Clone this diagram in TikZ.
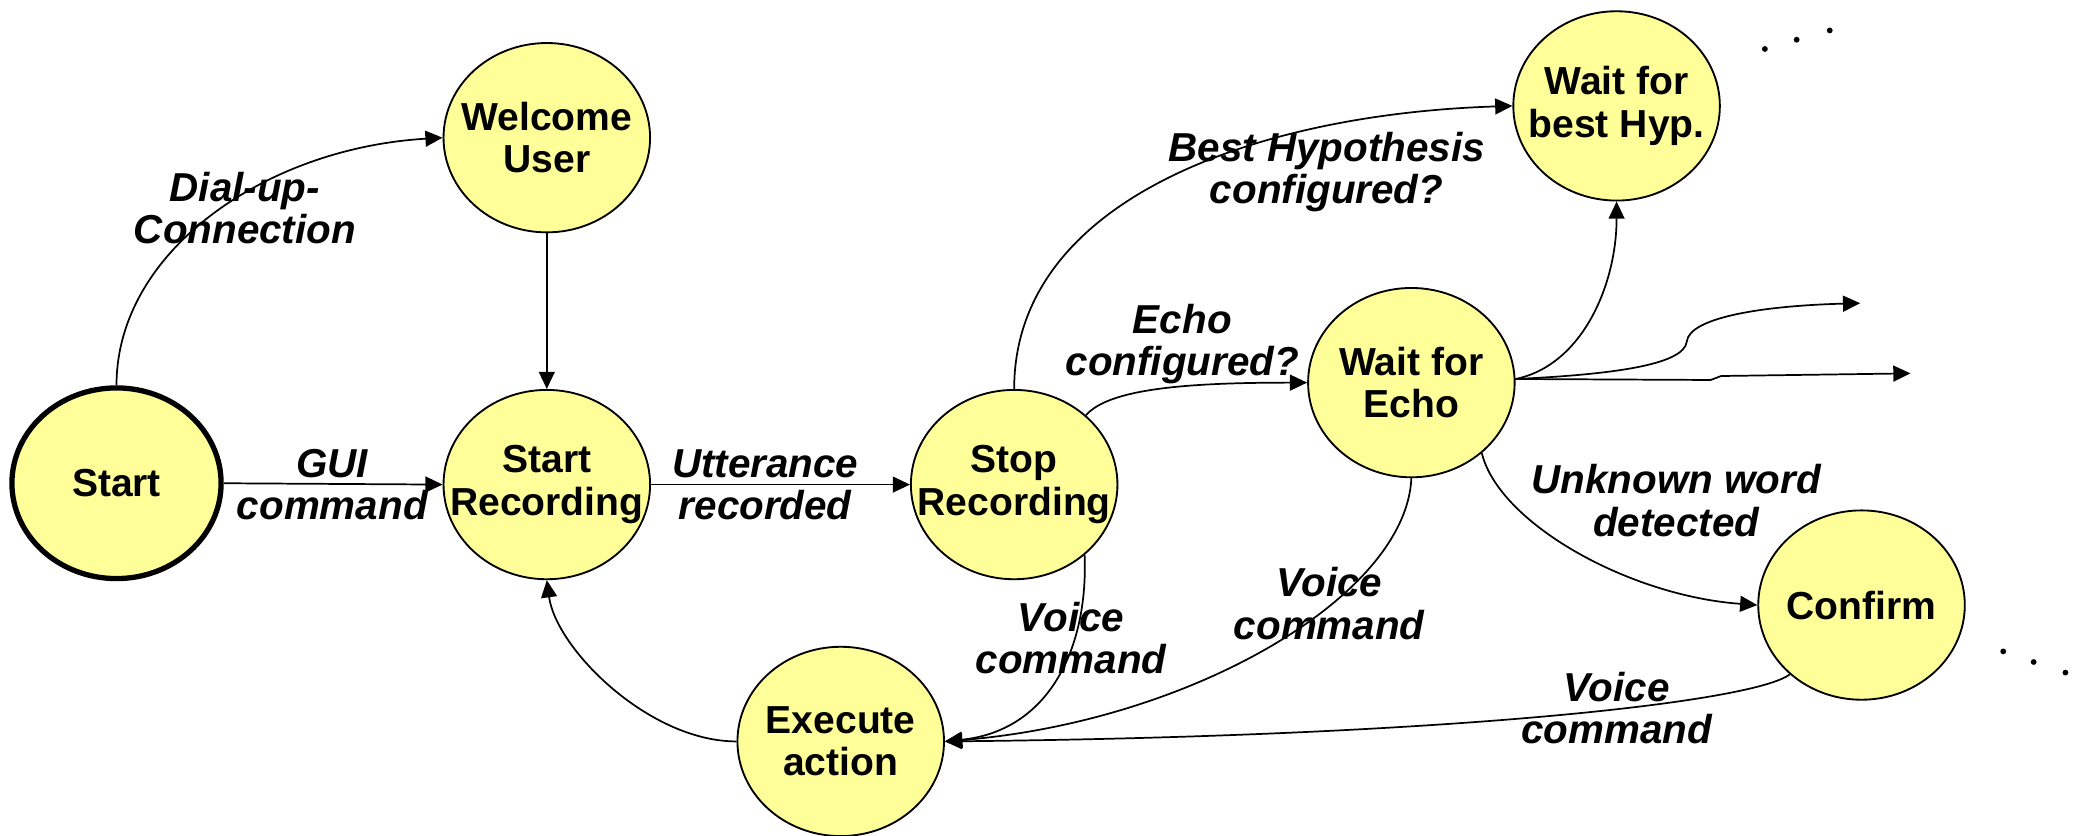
\documentclass[tikz,border=0pt]{standalone}
\usepackage{fontspec}
\setmainfont{Liberation Sans}
\usetikzlibrary{shapes.geometric,arrows.meta}
\definecolor{stfill}{HTML}{FFFF99}
\begin{document}
\begin{tikzpicture}[x=1pt,y=-1pt,
  state/.style={ellipse, draw, line width=1.4pt, fill=stfill, minimum width=156pt, minimum height=143pt, inner sep=0pt},
  stxt/.style={font=\fontsize{29.5}{32}\selectfont\bfseries, align=center, inner sep=0pt},
  lbl/.style={font=\fontsize{30.5}{32}\selectfont\bfseries\itshape, align=center, inner sep=0pt},
  conn/.style={line width=1.3pt, -{Triangle[length=13pt,width=12pt]}},
  dot/.style={fill=black}
]
\useasboundingbox (0,0) rectangle (1568,631);

% states
\node[state, line width=4pt, minimum width=158pt, minimum height=144pt, label={[stxt]center:Start}] (st) at (88,365) {};
\node[state, label={[stxt]center:Welcome\\User}] (wu) at (413,104) {};
\node[state, label={[stxt]center:Start\\Recording}] (sr) at (413,366) {};
\node[state, label={[stxt]center:Stop\\Recording}] (sp) at (766,366) {};
\node[state, label={[stxt]center:Wait for\\Echo}] (we) at (1066,289) {};
\node[state, label={[stxt]center:Wait for\\best Hyp.}] (wh) at (1221,80) {};
\node[state, label={[stxt]center:Confirm}] (cf) at (1406,457) {};
\node[state, label={[stxt]center:Execute\\action}] (ea) at (635,560) {};

% free ends
\coordinate (fa) at (1405,229);
\coordinate (fb) at (1443,282);
\coordinate (fam) at (1274,258);
\coordinate (fb1) at (1292,287);
\coordinate (fb2) at (1300,284);

% connectors
\draw[conn] (st.north) .. controls (88,190) and (200,112) .. (wu.west);
\draw[conn] (wu.south) -- (sr.north);
\draw[conn] (st.east) -- (sr.west);
\draw[conn] (sr.east) -- (sp.west);
\draw[conn] (sp.north) .. controls (766,150) and (950,86) .. (wh.west);
\draw[conn] (sp.44) .. controls (838,293) and (900,289) .. (we.west);
\draw[conn] (we.2) .. controls (1195,276) and (1221,215) .. (wh.south);
\draw[conn] (we.2) .. controls (1215,283) and (1272,276) .. (fam) .. controls (1276,240) and (1330,231) .. (fa);
\draw[conn] (we.2) -- (fb1) -- (fb2) -- (fb);
\draw[conn] (we.-45) .. controls (1132,395) and (1230,450) .. (cf.west);
\draw[conn] (sp.-45) .. controls (822,490) and (792,552) .. (ea.east);
\draw[conn] (we.south) .. controls (1062,450) and (900,545) .. (ea.east);
\draw[conn] (cf.-136) .. controls (1325,530) and (1100,556) .. (ea.east);
\draw[conn] (ea.west) .. controls (490,560) and (420,490) .. (sr.south);

% labels
\node[lbl] (l1) at (185,157) {Dial-up-\\Connection};
\node[lbl] (l2) at (251,366) {GUI\\command};
\node[lbl] (l3) at (578,366) {Utterance\\recorded};
\node[lbl] (l4) at (1002,130) {Best Hypothesis\\configured?};
\node[lbl] (l5) at (893,260) {Echo\\configured?};
\node[lbl] (l6) at (1266,378) {Unknown word\\detected};
\node[lbl] (l7) at (809,482) {Voice\\command};
\node[lbl] (l8) at (1004,456) {Voice\\command};
\node[lbl] (l9) at (1221,535) {Voice\\command};

% ellipsis dots
\fill[dot] (1333,37) circle (2.2pt);
\fill[dot] (1357,30) circle (2.2pt);
\fill[dot] (1382,23) circle (2.2pt);
\fill[dot] (1513,492) circle (2.2pt);
\fill[dot] (1536,500) circle (2.2pt);
\fill[dot] (1560,508) circle (2.2pt);
\end{tikzpicture}
\end{document}
